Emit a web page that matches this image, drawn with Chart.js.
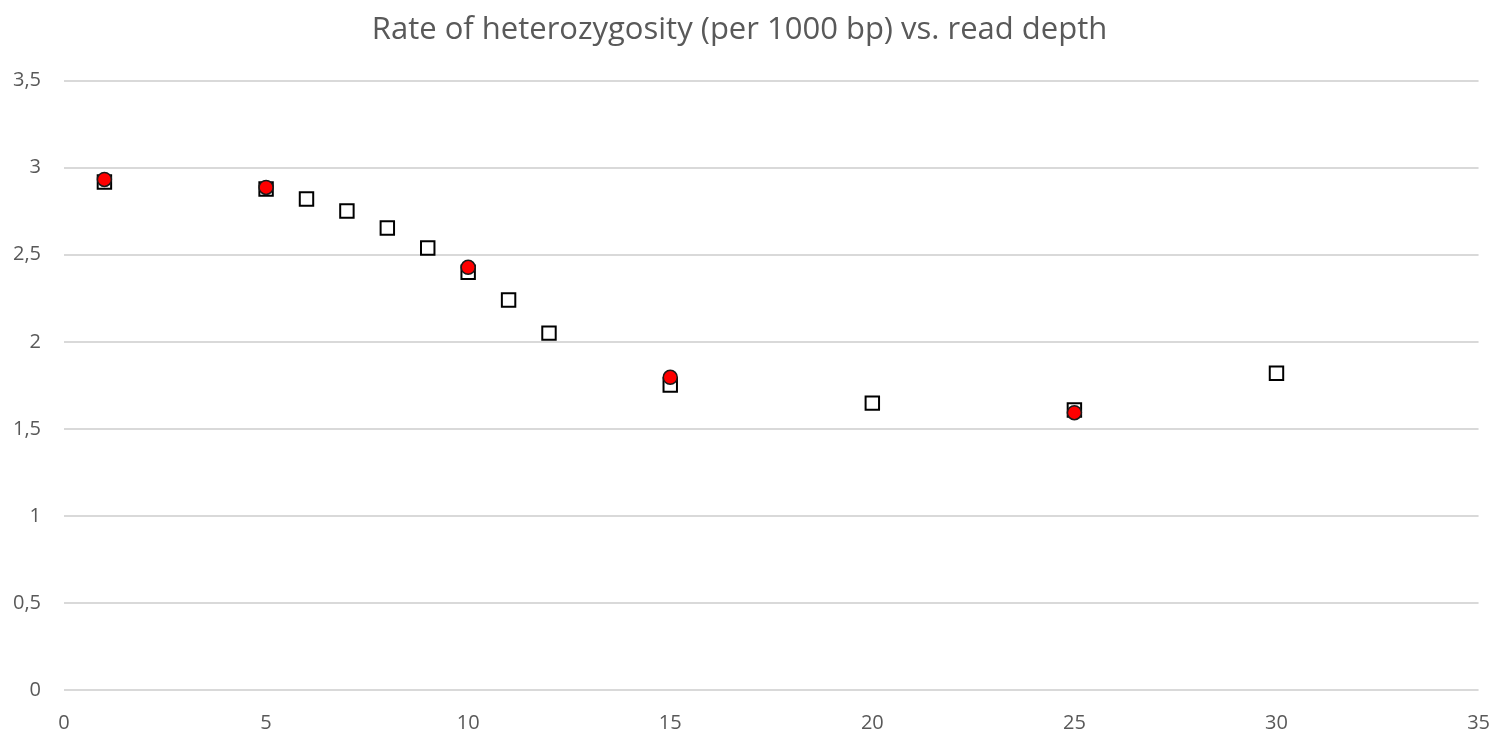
<!DOCTYPE html>
<html lang="en">

<head>
    <meta charset="UTF-8">
    <title>Rate of heterozygosity</title>
    <style>
        html, body { margin: 0; padding: 0; background: #fff; }
        #wrap { width: 1503px; height: 731px; }
    </style>
</head>

<body>
    <div id="wrap">
        <canvas id="myChart"></canvas>
    </div>

    <script src="https://cdn.jsdelivr.net/npm/chart.js"></script>
    <script>
        // read depth (x) and heterozygosity rate (y)
        const squareDepth = [1, 5, 6, 7, 8, 9, 10, 11, 12, 15, 20, 25, 30];
        const squareRate = [2.918, 2.878, 2.82, 2.751, 2.654, 2.539, 2.40, 2.24, 2.05, 1.752, 1.648, 1.608, 1.82];

        const circleDepth = [1, 5, 10, 15, 25];
        const circleRate = [2.933, 2.887, 2.428, 1.796, 1.593];

        const xTicks = [0, 5, 10, 15, 20, 25, 30, 35];
        const yTicks = [0, 0.5, 1, 1.5, 2, 2.5, 3, 3.5];

        const toPoints = (xs, ys) => xs.map((v, i) => ({ x: v, y: ys[i] }));

        const grey = '#595959';
        const fontFamily = '"Open Sans", sans-serif';

        let ctx = document.getElementById('myChart').getContext('2d');

        let myChart = new Chart(ctx, {
            type: 'scatter',
            data: {
                datasets: [{
                    label: 'called',
                    data: toPoints(circleDepth, circleRate),
                    pointStyle: 'circle',
                    pointRadius: 7,
                    pointBackgroundColor: '#ff0000',
                    pointBorderColor: '#1a1a1a',
                    pointBorderWidth: 1.5,
                    order: 0
                }, {
                    label: 'all',
                    data: toPoints(squareDepth, squareRate),
                    pointStyle: 'rect',
                    pointRadius: 9.5,
                    pointBackgroundColor: '#ffffff',
                    pointBorderColor: '#000000',
                    pointBorderWidth: 2,
                    order: 1
                }]
            },
            options: {
                responsive: true,
                maintainAspectRatio: false,
                animation: false,
                layout: { padding: { left: 0, right: 24, top: 0, bottom: 0 } },
                plugins: {
                    legend: { display: false },
                    tooltip: { enabled: false },
                    title: {
                        display: true,
                        text: 'Rate of heterozygosity (per 1000 bp) vs. read depth',
                        color: grey,
                        font: { family: fontFamily, size: 31, weight: 'normal' },
                        padding: { top: 12, bottom: 31.5 }
                    }
                },
                scales: {
                    x: {
                        type: 'linear',
                        min: 0,
                        max: 35,
                        afterBuildTicks: axis => { axis.ticks = xTicks.map(v => ({ value: v })); },
                        grid: { display: false },
                        border: { display: false },
                        ticks: {
                            color: grey,
                            padding: 13,
                            font: { family: fontFamily, size: 20 }
                        },
                        afterFit: axis => { axis.height = 41; }
                    },
                    y: {
                        type: 'linear',
                        min: 0,
                        max: 3.5,
                        afterBuildTicks: axis => { axis.ticks = yTicks.map(v => ({ value: v })); },
                        grid: { color: '#d9d9d9', lineWidth: 2, drawTicks: false },
                        border: { display: false },
                        ticks: {
                            color: grey,
                            padding: 23,
                            font: { family: fontFamily, size: 20 },
                            callback: v => String(v).replace('.', ',')
                        },
                        afterFit: axis => { axis.width = 64; }
                    }
                }
            }
        });
    </script>
</body>

</html>
